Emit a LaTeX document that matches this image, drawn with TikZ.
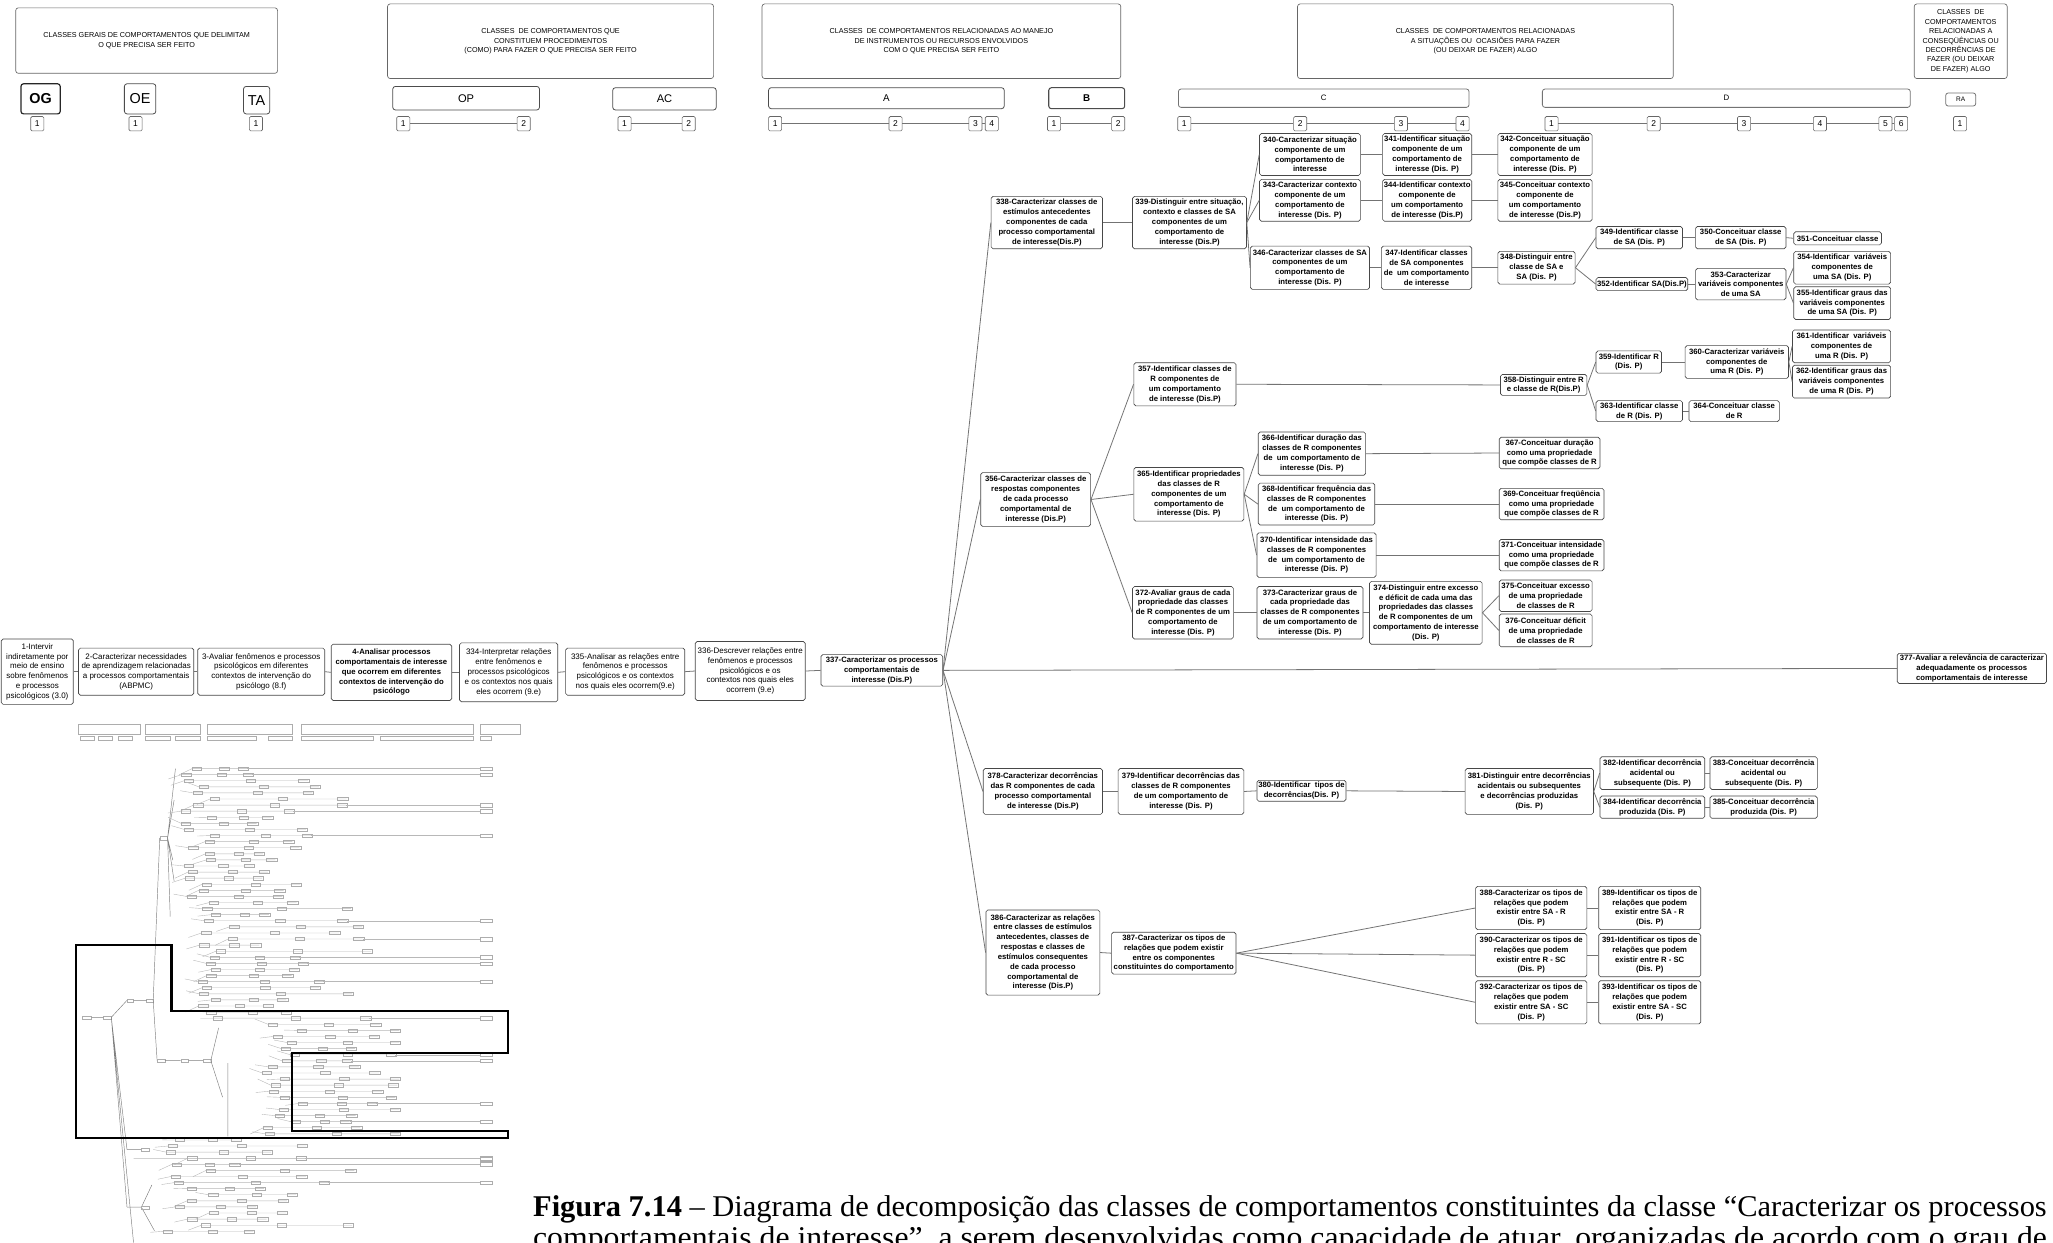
\documentclass[tikz,border=0pt]{standalone}
\usepackage{fontspec}
\usepackage{graphicx}
\setmainfont{Liberation Sans}
\newfontfamily\capfont{Liberation Serif}
\newcommand\bfn{\bfseries\fontsize{5.9}{7.5}\selectfont}
\newcommand\rgn{\fontsize{6.1}{7.5}\selectfont}
\newcommand\hdf{\fontsize{5.5}{7.2}\selectfont}
\newcommand\numf{\fontsize{6.5}{7}\selectfont}
\newcommand\mkbox[7][]{\node[box,#1,minimum width={(#5-#3)*1pt},minimum height={(#6-#4)*1pt}] (#2) at ({(#3+#5)/2},{(#4+#6)/2}) {#7};}
\newcommand\mknum[3]{\node[numbox] (#1) at (#2,94.5) {#3};}
\begin{document}
\begin{tikzpicture}[x=1pt,y=-1pt,
 box/.style={draw=black!72, rounded corners=1.4pt, line width=0.5pt, inner sep=0pt, align=center, font=\bfn, fill=white},
 reg/.style={font=\rgn},
 edge/.style={draw=black!55, line width=0.6pt},
 hdr/.style={draw=black!60, rounded corners=2pt, line width=0.5pt, font=\hdf},
 lab/.style={draw=black!70, rounded corners=2pt, line width=0.6pt},
 numbox/.style={draw=black!60, rounded corners=1pt, line width=0.45pt, minimum width=10pt, minimum height=11pt, inner sep=0pt, font=\numf},
 hl/.style={draw=black!55, line width=0.5pt},
 tl/.style={draw=black!28, line width=0.3pt},
 tb/.style={draw=black!32, line width=0.25pt},
 ts/.style={draw=black!50, line width=0.35pt}]
\useasboundingbox (0,0) rectangle (1568,949);
\clip (0,0) rectangle (1568,949);
\fill[white] (0,0) rectangle (1568,949);

% ---------- header ----------
\mkbox[hdr]{h1}{12}{6}{212}{56}{CLASSES GERAIS DE COMPORTAMENTOS QUE DELIMITAM\\O QUE PRECISA SER FEITO}
\mkbox[hdr]{h2}{296}{3}{545}{60}{CLASSES \ DE COMPORTAMENTOS QUE\\CONSTITUEM PROCEDIMENTOS\\(COMO) PARA FAZER O QUE PRECISA SER FEITO}
\mkbox[hdr]{h3}{582}{3}{856}{60}{CLASSES \ DE COMPORTAMENTOS RELACIONADAS AO MANEJO\\DE INSTRUMENTOS OU RECURSOS ENVOLVIDOS\\COM O QUE PRECISA SER FEITO}
\mkbox[hdr]{h4}{991}{3}{1278}{60}{CLASSES \ DE COMPORTAMENTOS RELACIONADAS\\A SITUAÇÕES OU \ OCASIÕES PARA FAZER\\(OU DEIXAR DE FAZER) ALGO}
\mkbox[hdr]{h5}{1462}{3}{1533}{60}{CLASSES \ DE\\COMPORTAMENTOS\\RELACIONADAS A\\CONSEQÜÊNCIAS OU\\DECORRÊNCIAS DE\\FAZER (OU DEIXAR\\DE FAZER) ALGO}

\mkbox[lab,line width=0.9pt,draw=black!85,font=\bfseries\fontsize{11}{12}\selectfont]{og}{16}{64}{46}{87}{OG}
\mkbox[lab,font=\fontsize{11}{12}\selectfont]{oe}{95}{64}{119}{87}{OE}
\mkbox[lab,font=\fontsize{11}{12}\selectfont]{ta}{186}{66}{206}{87}{TA}
\mkbox[lab,font=\fontsize{8.5}{9}\selectfont]{op}{300}{66}{412}{84}{OP}
\mkbox[lab,font=\fontsize{8.5}{9}\selectfont]{ac}{468}{67}{547}{84}{AC}
\mkbox[lab,font=\fontsize{7.5}{8}\selectfont]{ba}{587}{67}{767}{83}{A}
\mkbox[lab,line width=0.8pt,font=\bfseries\fontsize{7.5}{8}\selectfont]{bb}{801}{67}{859}{83}{B}
\mkbox[lab,draw=black!55,font=\fontsize{6}{7}\selectfont]{bc}{900}{68}{1122}{82}{C}
\mkbox[lab,draw=black!55,font=\fontsize{6}{7}\selectfont]{bd}{1178}{68}{1459}{82}{D}
\mkbox[lab,draw=black!55,font=\fontsize{5}{6}\selectfont]{ra}{1486}{71}{1509}{81}{RA}

\mknum{og1}{28.5}{1}
\mknum{oe1}{103.5}{1}
\mknum{ta1}{195.5}{1}
\mknum{op1}{308}{1}\mknum{op2}{400}{2}
\mknum{ac1}{477}{1}\mknum{ac2}{526}{2}
\mknum{a1}{592}{1}\mknum{a2}{684}{2}\mknum{a3}{745}{3}\mknum{a4}{757.5}{4}
\mknum{b1}{805}{1}\mknum{b2}{854}{2}
\mknum{c1}{904.5}{1}\mknum{c2}{993}{2}\mknum{c3}{1070}{3}\mknum{c4}{1117}{4}
\mknum{d1}{1185}{1}\mknum{d2}{1263}{2}\mknum{d3}{1332}{3}\mknum{d4}{1390}{4}\mknum{d5}{1440}{5}\mknum{d6}{1452}{6}
\mknum{ra1}{1497}{1}
\foreach \a/\b in {op1/op2,ac1/ac2,a1/a2,a2/a3,a3/a4,b1/b2,c1/c2,c2/c3,c3/c4,d1/d2,d2/d3,d3/d4,d4/d5,d5/d6}
  \draw[hl] (\a.east) -- (\b.west);

% ---------- main chain ----------
\mkbox[reg]{n1}{1}{488}{56}{538}{1-Intervir\\indiretamente por\\meio de ensino\\sobre fenômenos\\e processos\\psicológicos (3.0)}
\mkbox[reg]{n2}{60}{495}{148}{531}{2-Caracterizar necessidades\\de aprendizagem relacionadas\\a processos comportamentais\\(ABPMC)}
\mkbox[reg]{n3}{151}{495}{248}{531}{3-Avaliar fenômenos e processos\\psicológicos em diferentes\\contextos de intervenção do\\psicólogo (8.f)}
\mkbox{n4}{253}{492}{345}{535}{4-Analisar processos\\comportamentais de interesse\\que ocorrem em diferentes\\contextos de intervenção do\\psicólogo}
\mkbox[reg]{n334}{351}{491}{426}{536}{334-Interpretar relações\\entre fenômenos e\\processos psicológicos\\e os contextos nos quais\\eles ocorrem (9.e)}
\mkbox[reg]{n335}{432}{495}{523}{531}{335-Analisar as relações entre\\fenômenos e processos\\psicológicos e os contextos\\nos quais eles ocorrem(9.e)}
\mkbox[reg]{n336}{531}{490}{615}{535}{336-Descrever relações entre\\fenômenos e processos\\psicológicos e os\\contextos nos quais eles\\ocorrem (9.e)}
\mkbox{n337}{627}{500}{720}{524}{337-Caracterizar os processos\\comportamentais de\\interesse (Dis.P)}

% ---------- SA branch ----------
\mkbox{n338}{757}{150}{842}{190}{338-Caracterizar classes de\\estímulos antecedentes\\componentes de cada\\processo comportamental\\de interesse(Dis.P)}
\mkbox{n339}{865}{150}{952}{190}{339-Distinguir entre situação,\\contexto e classes de SA\\componentes de um\\comportamento de\\interesse (Dis.P)}
\mkbox{n340}{962}{102}{1039}{134}{340-Caracterizar situação\\componente de um\\comportamento de\\interesse}
\mkbox{n341}{1056}{102}{1124}{134}{341-Identificar situação\\componente de um\\comportamento de\\interesse (Dis. P)}
\mkbox{n342}{1144}{102}{1216}{134}{342-Conceituar situação\\componente de um\\comportamento de\\interesse (Dis. P)}
\mkbox{n343}{962}{137}{1039}{169}{343-Caracterizar contexto\\componente de um\\comportamento de\\interesse (Dis. P)}
\mkbox{n344}{1056}{137}{1124}{169}{344-Identificar contexto\\componente de\\um comportamento\\de interesse (Dis.P)}
\mkbox{n345}{1144}{137}{1216}{169}{345-Conceituar contexto\\componente de\\um comportamento\\de interesse (Dis.P)}
\mkbox{n346}{955}{188}{1046}{221}{346-Caracterizar classes de SA\\componentes de um\\comportamento de\\interesse (Dis. P)}
\mkbox{n347}{1055}{188}{1124}{221}{347-Identificar classes\\de SA componentes\\de \ um comportamento\\de interesse}
\mkbox{n348}{1144}{192}{1203}{217}{348-Distinguir entre\\classe de SA e\\SA (Dis. P)}
\mkbox{n349}{1219}{173}{1285}{190}{349-Identificar classe\\de SA (Dis. P)}
\mkbox{n350}{1295}{173}{1364}{190}{350-Conceituar classe\\de SA (Dis. P)}
\mkbox{n351}{1370}{177}{1437}{187}{351-Conceituar classe}
\mkbox{n352}{1219}{212}{1289}{222}{352-Identificar SA(Dis.P)}
\mkbox{n353}{1295}{205}{1364}{229}{353-Caracterizar\\variáveis componentes\\de uma SA}
\mkbox{n354}{1370}{192}{1444}{217}{354-Identificar \ variáveis\\componentes de\\uma SA (Dis. P)}
\mkbox{n355}{1370}{219}{1444}{244}{355-Identificar graus das\\variáveis componentes\\de uma SA (Dis. P)}

% ---------- R branch ----------
\mkbox{n356}{749}{361}{833}{402}{356-Caracterizar classes de\\respostas componentes\\de cada processo\\comportamental de\\interesse (Dis.P)}
\mkbox{n357}{866}{277}{944}{310}{357-Identificar classes de\\R componentes de\\um comportamento\\de interesse (Dis.P)}
\mkbox{n358}{1146}{286}{1212}{302}{358-Distinguir entre R\\e classe de R(Dis.P)}
\mkbox{n359}{1219}{268}{1269}{285}{359-Identificar R\\(Dis. P)}
\mkbox{n360}{1287}{264}{1366}{289}{360-Caracterizar variáveis\\componentes de\\uma R (Dis. P)}
\mkbox{n361}{1369}{252}{1444}{277}{361-Identificar \ variáveis\\componentes de\\uma R (Dis. P)}
\mkbox{n362}{1369}{279}{1444}{304}{362-Identificar graus das\\variáveis componentes\\de uma R (Dis. P)}
\mkbox{n363}{1219}{306}{1285}{322}{363-Identificar classe\\de R (Dis. P)}
\mkbox{n364}{1290}{306}{1359}{322}{364-Conceituar classe\\de R}
\mkbox{n365}{866}{357}{950}{398}{365-Identificar propriedades\\das classes de R\\componentes de um\\comportamento de\\interesse (Dis. P)}
\mkbox{n366}{961}{330}{1043}{363}{366-Identificar duração das\\classes de R componentes\\de \ um comportamento de\\interesse (Dis. P)}
\mkbox{n368}{961}{369}{1050}{401}{368-Identificar frequência das\\classes de R componentes\\de \ um comportamento de\\interesse (Dis. P)}
\mkbox{n370}{960}{407}{1051}{441}{370-Identificar intensidade das\\classes de R componentes\\de \ um comportamento de\\interesse (Dis. P)}
\mkbox{n367}{1145}{334}{1222}{358}{367-Conceituar duração\\como uma propriedade\\que compõe classes de R}
\mkbox{n369}{1145}{373}{1225}{397}{369-Conceituar freqüência\\como uma propriedade\\que compõe classes de R}
\mkbox{n371}{1145}{412}{1225}{436}{371-Conceituar intensidade\\como uma propriedade\\que compõe classes de R}
\mkbox{n372}{865}{448}{942}{488}{372-Avaliar graus de cada\\propriedade das classes\\de R componentes de um\\comportamento de\\interesse (Dis. P)}
\mkbox{n373}{960}{448}{1041}{488}{373-Caracterizar graus de\\cada propriedade das\\classes de R componentes\\de um comportamento de\\interesse (Dis. P)}
\mkbox{n374}{1046}{444}{1132}{492}{374-Distinguir entre excesso\\e déficit de cada uma das\\propriedades das classes\\de R componentes de um\\comportamento de interesse\\(Dis. P)}
\mkbox{n375}{1145}{443}{1216}{467}{375-Conceituar excesso\\de uma propriedade\\de classes de R}
\mkbox{n376}{1145}{469}{1216}{494}{376-Conceituar déficit\\de uma propriedade\\de classes de R}

\mkbox{n377}{1449}{499}{1563}{522}{377-Avaliar a relevância de caracterizar\\adequadamente os processos\\comportamentais de interesse}

% ---------- consequences ----------
\mkbox{n378}{751}{587}{842}{622}{378-Caracterizar decorrências\\das R componentes de cada\\processo comportamental\\de interesse (Dis.P)}
\mkbox{n379}{854}{587}{950}{622}{379-Identificar decorrências das\\classes de R componentes\\de um comportamento de\\interesse (Dis. P)}
\mkbox{n380}{960}{596}{1028}{612}{380-Identificar \ tipos de\\decorrências(Dis. P)}
\mkbox{n381}{1119}{587}{1217}{622}{381-Distinguir entre decorrências\\acidentais ou subsequentes\\e decorrências produzidas\\(Dis. P)}
\mkbox{n382}{1222}{578}{1302}{603}{382-Identificar decorrência\\acidental ou\\subsequente (Dis. P)}
\mkbox{n383}{1306}{578}{1388}{603}{383-Conceituar decorrência\\acidental ou\\subsequente (Dis. P)}
\mkbox{n384}{1222}{608}{1302}{625}{384-Identificar decorrência\\produzida (Dis. P)}
\mkbox{n385}{1306}{608}{1388}{625}{385-Conceituar decorrência\\produzida (Dis. P)}

% ---------- relations ----------
\mkbox{n386}{753}{695}{840}{760}{386-Caracterizar as relações\\entre classes de estímulos\\antecedentes, classes de\\respostas e classes de\\estímulos consequentes\\de cada processo\\comportamental de\\interesse (Dis.P)}
\mkbox{n387}{849}{712}{944}{744}{387-Caracterizar os tipos de\\relações que podem existir\\entre os componentes\\constituintes do comportamento}
\mkbox{n388}{1127}{677}{1212}{710}{388-Caracterizar os tipos de\\relações que podem\\existir entre SA - R\\(Dis. P)}
\mkbox{n389}{1221}{677}{1299}{710}{389-Identificar os tipos de\\relações que podem\\existir entre SA - R\\(Dis. P)}
\mkbox{n390}{1127}{713}{1212}{746}{390-Caracterizar os tipos de\\relações que podem\\existir entre R - SC\\(Dis. P)}
\mkbox{n391}{1221}{713}{1299}{746}{391-Identificar os tipos de\\relações que podem\\existir entre R - SC\\(Dis. P)}
\mkbox{n392}{1127}{749}{1212}{782}{392-Caracterizar os tipos de\\relações que podem\\existir entre SA - SC\\(Dis. P)}
\mkbox{n393}{1221}{749}{1299}{782}{393-Identificar os tipos de\\relações que podem\\existir entre SA - SC\\(Dis. P)}

\foreach \a/\b in {n1/n2,n2/n3,n3/n4,n4/n334,n334/n335,n335/n336,n336/n337,
 n337/n338,n337/n356,n337/n377,n337/n378,n337/n386,
 n338/n339,n339/n340,n339/n343,n339/n346,
 n340/n341,n341/n342,n343/n344,n344/n345,n346/n347,n347/n348,
 n348/n349,n348/n352,n349/n350,n350/n351,n352/n353,n353/n354,n353/n355,
 n356/n357,n356/n365,n356/n372,
 n357/n358,n358/n359,n358/n363,n359/n360,n360/n361,n360/n362,n363/n364,
 n365/n366,n365/n368,n365/n370,n366/n367,n368/n369,n370/n371,
 n372/n373,n373/n374,n374/n375,n374/n376,
 n378/n379,n379/n380,n380/n381,n381/n382,n381/n384,n382/n383,n384/n385,
 n386/n387,n387/n388,n387/n390,n387/n392,n388/n389,n390/n391,n392/n393}
  \draw[edge] (\a.east) -- (\b.west);

% ---------- thumbnail ----------
\draw[tb] (60,553) rectangle (107,561) (111,553) rectangle (153,561) (158,553) rectangle (223,561) (230,553) rectangle (361,561) (367,553) rectangle (397,561);
\foreach \xa/\xb in {61/72,75/86,90/101,111/130,134/153,158/196,205/223,230/285,290/361,367/375}
  \draw[tb] (\xa,562.5) rectangle (\xb,565.5);
\draw[tb] (63,776) rectangle (70,778.5) (79,776) rectangle (85,778.5);
\draw[ts] (70,777)--(79,777) (85,777)--(97,764) (85,777)--(97,878) (85,777)--(97,922) (85,777)--(102,949);
\draw[tb] (97,763) rectangle (102,765.5) (112,763) rectangle (117,765.5);
\draw[ts] (102,764)--(112,764) (117,764)--(122,640) (117,764)--(120,810);
\draw[tb] (122,639) rectangle (128,641.5);
\draw[ts] (128,640)--(134,587) (128,640)--(133,611) (128,640)--(132,657) (128,640)--(133,673) (128,640)--(130,700);
\draw[tb] (120,809) rectangle (126,811.5) (138,809) rectangle (144,811.5) (155,809) rectangle (161,811.5);
\draw[ts] (126,810)--(138,810) (144,810)--(155,810) (161,810)--(167,785) (161,810)--(170,838) (174,812)--(174,868);
\draw[ts] (97,878)--(108,878) (102,885)--(367,885) (97,922)--(108,922) (108,922)--(116,905) (108,922)--(118,940);
\draw[tb] (367,884) rectangle (376,886.5) (108,877) rectangle (114,879.5) (108,921) rectangle (114,923.5);
\pgfmathsetseed{12}
\foreach \i in {0,...,76}{
  \pgfmathsetmacro\yy{587+4.65*\i}
  \pgfmathsetmacro\xs{\yy<700 ? 138+25*rnd : (\yy<780 ? 150+30*rnd : (\yy<870 ? 200+30*rnd : 122+40*rnd))}
  \pgfmathsetmacro\xe{min(\xs+40+80*rnd,305)}
  \pgfmathsetmacro\xm{(\xs+\xe)/2}
  \pgfmathsetmacro\dy{10*(rnd-0.5)}
  \pgfmathsetmacro\lg{rnd}
  \draw[tl] (\xs-10,\yy+\dy) -- (\xs,\yy) -- (\xe,\yy);
  \draw[tb] (\xs,\yy-1.2) rectangle ++(7,2.4) (\xm,\yy-1.2) rectangle ++(7,2.4) (\xe-7,\yy-1.2) rectangle ++(8,2.4);
  \ifdim\lg pt>0.85pt
    \draw[tl] (\xe,\yy) -- (367,\yy);
    \draw[tb] (367,\yy-1.3) rectangle (376,\yy+1.3);
  \fi
}
\draw[line width=1.7pt, black] (58,722) -- (131,722) -- (131,772) -- (388,772) -- (388,804) -- (223,804) -- (223,864) -- (388,864) -- (388,869) -- (58,869) -- cycle;

% ---------- caption ----------
\node[anchor=base west, inner sep=0pt] (cap1) at (407,929) {\resizebox{1156pt}{\height}{\capfont\fontsize{23}{27}\selectfont\textbf{Figura 7.14} – Diagrama de decomposição das classes de comportamentos constituintes da classe “Caracterizar os processos}};
\node[anchor=base west, inner sep=0pt] (cap2) at (407,953) {\resizebox{1156pt}{\height}{\capfont\fontsize{23}{27}\selectfont comportamentais de interesse”, a serem desenvolvidas como capacidade de atuar, organizadas de acordo com o grau de}};
\end{tikzpicture}
\end{document}
